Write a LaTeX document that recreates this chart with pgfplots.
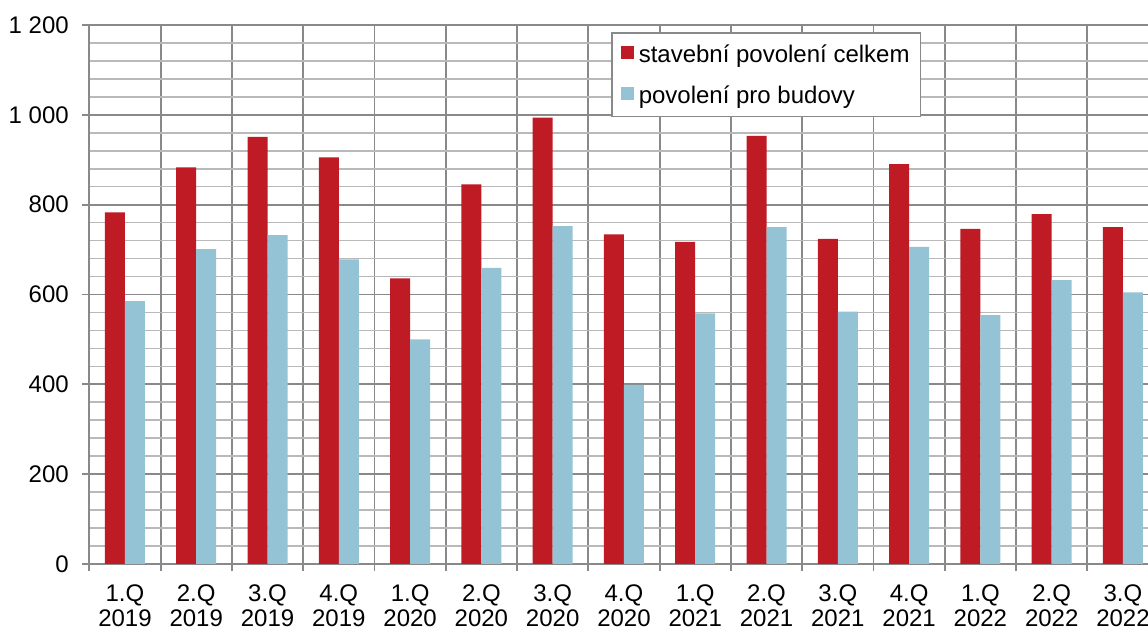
\documentclass[border=0pt]{standalone}
\usepackage{pgfplots}
\pgfplotsset{compat=1.18}
\usepackage{fontspec}
\setmainfont{Liberation Sans}
\definecolor{cred}{RGB}{191,27,36}
\definecolor{cblue}{RGB}{147,195,212}
\definecolor{gmaj}{RGB}{137,137,137}
\definecolor{gmin}{RGB}{185,185,185}
\begin{document}
\begin{tikzpicture}
\begin{axis}[
  at={(89.3bp,66bp)}, anchor=south west,
  scale only axis, width=1058.7bp, height=539bp,
  xmin=-0.5, xmax=14.351, ymin=0, ymax=1200,
  axis x line*=bottom, axis y line*=left,
  axis line style={gmaj, line width=1.9bp},
  ybar,
  ytick={0,200,...,1200},
  yticklabels={0,200,400,600,800,1 000,1 200},
  minor y tick num=4,
  ymajorgrids, yminorgrids,
  major grid style={gmaj, line width=1.9bp},
  minor grid style={gmin, line width=1.6bp},
  xtick={-0.5,0.5,...,13.5},
  xticklabels={{1.Q\\2019},{2.Q\\2019},{3.Q\\2019},{4.Q\\2019},{1.Q\\2020},{2.Q\\2020},{3.Q\\2020},{4.Q\\2020},{1.Q\\2021},{2.Q\\2021},{3.Q\\2021},{4.Q\\2021},{1.Q\\2022},{2.Q\\2022},{3.Q\\2022}},
  xmajorgrids,
  tick align=outside,
  major tick length=7bp, minor tick length=0pt,
  tick style={gmaj, line width=1.9bp},
  yticklabel style={font=\fontsize{24bp}{25bp}\selectfont, anchor=east, xshift=-10bp},
  xticklabel style={font=\fontsize{24bp}{25.5bp}\selectfont, align=center, anchor=north, xshift=35.65bp, yshift=-10bp},
  bar width=20bp,
  legend style={at={(0.4928,0.987)}, anchor=north west, draw=gmaj, line width=1.5bp,
    font=\fontsize{24bp}{26bp}\selectfont, inner xsep=9bp, inner ysep=10bp, row sep=17.5bp, column sep=3bp,
    cells={anchor=west}},
  legend image code/.code={\fill[#1] (0bp,-5bp) rectangle (13bp,8bp);},
]
\addplot[fill=cred, draw=none, bar shift=-10bp] coordinates {
(0,783) (1,883) (2,951) (3,905) (4,636) (5,845) (6,994) (7,734) (8,717) (9,953) (10,724) (11,890) (12,746) (13,779) (14,750)};
\addplot[fill=cblue, draw=none, bar shift=10bp] coordinates {
(0,585) (1,701) (2,732) (3,678) (4,500) (5,659) (6,752) (7,399) (8,558) (9,750) (10,562) (11,706) (12,554) (13,632) (14,605)};
\legend{stavební povolení celkem, povolení pro budovy}
\end{axis}
\pgfresetboundingbox
\path[use as bounding box] (0,0) rectangle (1148bp,630bp);
\end{tikzpicture}
\end{document}
